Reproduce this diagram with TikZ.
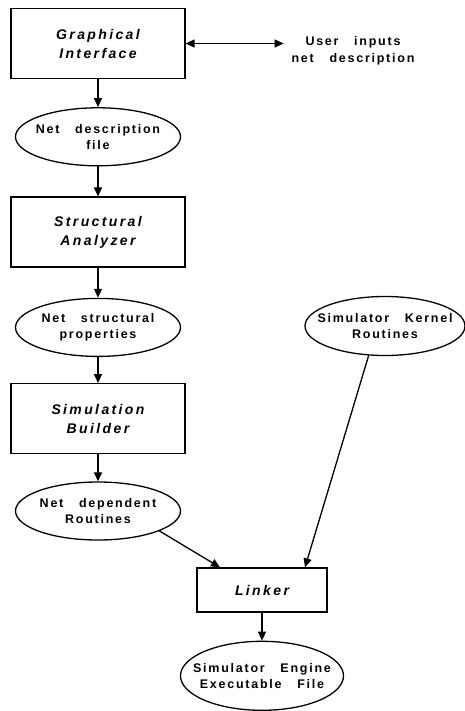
\documentclass[tikz,border=0pt]{standalone}
\usepackage{fontspec}
\setmainfont{Liberation Sans}
\newfontfamily\flowfont{Liberation Sans}[LetterSpace=14, WordSpace=3]
\newfontfamily\titlefont{Liberation Sans}[LetterSpace=17, WordSpace=3]
\usepackage{tikz}
\usetikzlibrary{positioning, shapes.geometric, arrows.meta}

\begin{document}
\begin{tikzpicture}[
		x=1pt, y=-1pt,
		node distance=28pt,
		line width=1.3pt,
		box/.style={draw, minimum width=174pt, minimum height=70pt, align=center,
			font=\titlefont\fontsize{14}{19}\selectfont\bfseries\itshape},
		filebox/.style={draw, ellipse, minimum width=165pt, minimum height=58pt,
			inner xsep=-30pt, inner ysep=0pt, align=center,
			font=\flowfont\fontsize{12.5}{16.5}\selectfont\bfseries},
		note/.style={align=center, font=\flowfont\fontsize{12.5}{16.5}\selectfont\bfseries},
		arrow/.style={-{Triangle[length=9pt, width=8pt]}}
		]
		
		\useasboundingbox (0,0) rectangle (465,711);
		
		% Nodes
		\node[box]     (gui)     at (98,43.5) {Graphical\\Interface};
		\node[filebox] (netdesc) [below=of gui] {Net description\\file};
		\node[box]     (analyzer)[below=30pt of netdesc] {Structural\\Analyzer};
		\node[filebox] (netprop) [below=30pt of analyzer] {Net structural\\properties};
		\node[box]     (builder) [below=26pt of netprop] {Simulation\\Builder};
		\node[filebox] (netrout) [below=27pt of builder] {Net dependent\\Routines};
		\node[filebox, minimum width=160pt, minimum height=59pt] (kernel) at (385,326) {Simulator Kernel\\Routines};
		\node[box, minimum width=130pt, minimum height=44pt] (linker) at (262,590) {Linker};
		\node[filebox, minimum width=163pt, minimum height=69pt] (engine) [below=of linker] {Simulator Engine\\Executable File};
		\node[note]    (user)    at (353,51) {User inputs\\net description};
		
		% Arrows
		\coordinate (userend) at ([xshift=-4pt]user.west |- gui.east);
		\draw[{Triangle[length=9pt, width=8pt]}-{Triangle[length=9pt, width=8pt]}] (gui.east) -- (userend);
		\draw[arrow] (gui) -- (netdesc);
		\draw[arrow] (netdesc) -- (analyzer);
		\draw[arrow] (analyzer) -- (netprop);
		\draw[arrow] (netprop) -- (builder);
		\draw[arrow] (builder) -- (netrout);
		\draw[arrow] (netrout.-18) -- ([xshift=-42pt]linker.north);
		\draw[arrow] (kernel.-119) -- ([xshift=43pt]linker.north);
		\draw[arrow] (linker) -- (engine);
		
\end{tikzpicture}
\end{document}
